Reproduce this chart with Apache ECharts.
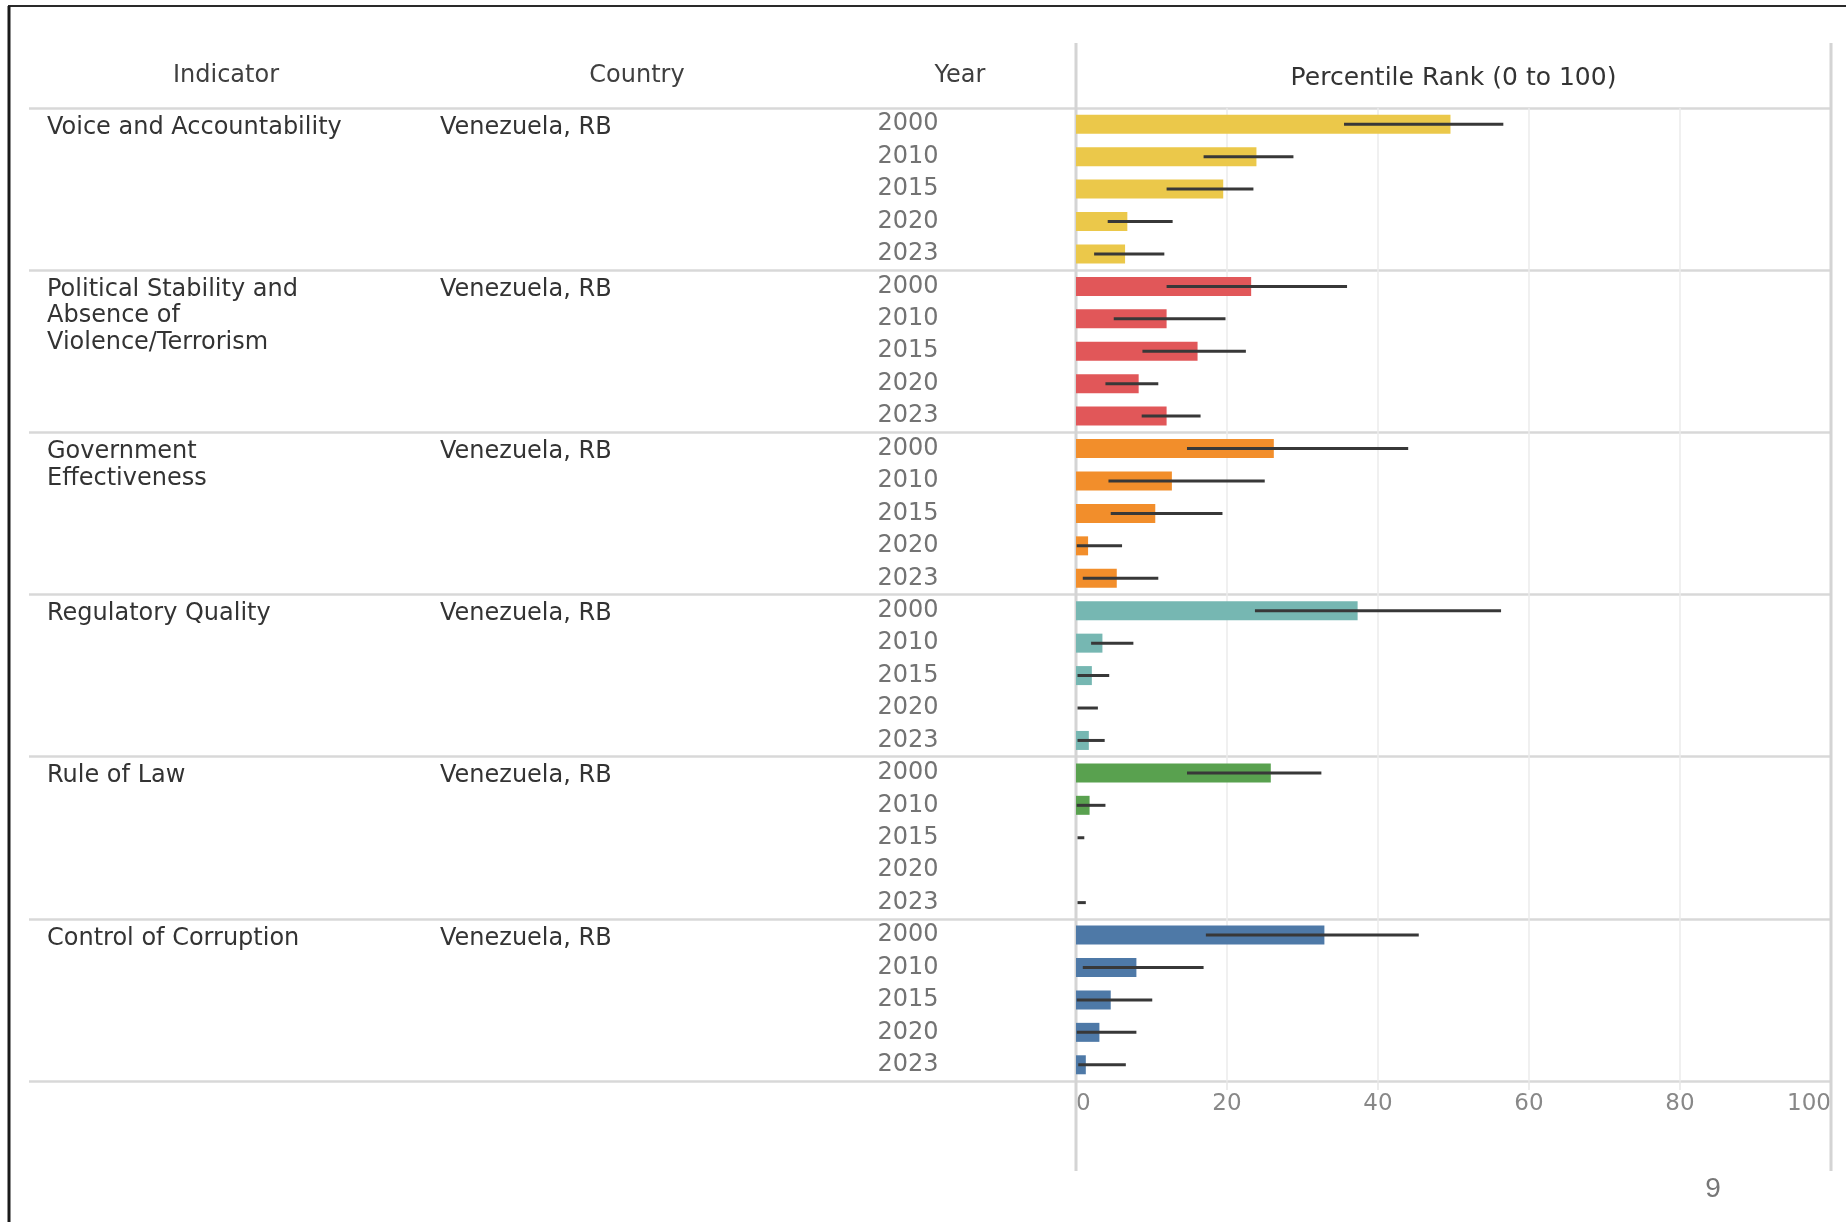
<!DOCTYPE html>
<html><head><meta charset="utf-8">
<script src="https://cdn.jsdelivr.net/npm/echarts@6/dist/echarts.min.js"></script>
<style>html,body{margin:0;padding:0;background:#fff}#chart{width:1846px;height:1222px}</style>
</head><body><div id="chart"></div>
<script>
// ---- data ----
const indicators = ['Voice and Accountability', 'Political Stability and Absence of Violence/Terrorism', 'Government Effectiveness', 'Regulatory Quality', 'Rule of Law', 'Control of Corruption'];
const indicatorLabels = ['Voice and Accountability', 'Political Stability and\nAbsence of\nViolence/Terrorism', 'Government\nEffectiveness', 'Regulatory Quality', 'Rule of Law', 'Control of Corruption'];
const country = 'Venezuela, RB';
const years = ['2000', '2010', '2015', '2020', '2023'];
const xTicks = [0, 20, 40, 60, 80, 100];

const voiceRank = [49.6, 23.9, 19.5, 6.8, 6.5];
const voiceLow = [35.5, 16.9, 12.0, 4.2, 2.4];
const voiceHigh = [56.6, 28.8, 23.5, 12.8, 11.7];

const politicalRank = [23.2, 12.0, 16.1, 8.3, 12.0];
const politicalLow = [12.0, 5.0, 8.8, 3.9, 8.7];
const politicalHigh = [35.9, 19.8, 22.5, 10.9, 16.5];

const governmentRank = [26.2, 12.7, 10.5, 1.6, 5.4];
const governmentLow = [14.7, 4.3, 4.6, 0.1, 0.9];
const governmentHigh = [44.0, 25.0, 19.4, 6.1, 10.9];

const regulatoryRank = [37.3, 3.5, 2.1, 0, 1.7];
const regulatoryLow = [23.7, 2.0, 0.2, 0.2, 0.2];
const regulatoryHigh = [56.3, 7.6, 4.4, 2.9, 3.8];

const ruleRank = [25.8, 1.8, 0, null, 0];
const ruleLow = [14.7, 0.1, 0.2, null, 0.2];
const ruleHigh = [32.5, 3.9, 1.1, null, 1.3];

const corruptionRank = [32.9, 8.0, 4.6, 3.1, 1.3];
const corruptionLow = [17.2, 0.9, 0.1, 0.1, 0.3];
const corruptionHigh = [45.4, 16.9, 10.1, 8.0, 6.6];

const colors = ['#EBC84A', '#E15759', '#F28E2B', '#76B7B2', '#59A14F', '#4E79A7'];

// ---- build ----
const ranks = [voiceRank, politicalRank, governmentRank, regulatoryRank, ruleRank, corruptionRank];
const lows = [voiceLow, politicalLow, governmentLow, regulatoryLow, ruleLow, corruptionLow];
const highs = [voiceHigh, politicalHigh, governmentHigh, regulatoryHigh, ruleHigh, corruptionHigh];

const rowKeys = [];
indicators.forEach((ind, g) => years.forEach(y => rowKeys.push(g + '|' + y)));
const barData = [];
const errData = [];
ranks.forEach((arr, g) => arr.forEach((v, k) => {
  const row = g * years.length + k;
  barData.push({ value: v, itemStyle: { color: colors[g] } });
  if (lows[g][k] != null) errData.push([lows[g][k], highs[g][k], row]);
}));
const textData = indicators.map((_, g) => [0, g * years.length, g]);

const FONT = '"DejaVu Sans", "Noto Sans", sans-serif';
const G0L = 29, G1L = 1076, G1R = 1831, GT = 108, GB = 1081;
const sepLine = { show: true, interval: (i) => i % years.length === 0, lineStyle: { color: '#d8d8d8', width: 2.5 } };

const chart = echarts.init(document.getElementById('chart'), null, { renderer: 'canvas' });
chart.setOption({
  backgroundColor: '#ffffff',
  animation: false,
  grid: [
    { left: G0L, top: GT, width: G1L - G0L, height: GB - GT, outerBoundsMode: 'none', containLabel: false },
    { left: G1L, top: GT, width: G1R - G1L, height: GB - GT, outerBoundsMode: 'none', containLabel: false }
  ],
  xAxis: [
    { gridIndex: 0, type: 'value', min: 0, max: 1, show: false },
    {
      gridIndex: 1, type: 'value', min: xTicks[0], max: xTicks[xTicks.length - 1], interval: xTicks[1] - xTicks[0],
      axisLine: { show: false },
      axisTick: { show: true, length: 9, lineStyle: { color: '#e6e6e6', width: 1.5 } },
      splitLine: { show: true, lineStyle: { color: '#ebebeb', width: 1.5 } },
      axisLabel: { color: '#888', fontFamily: FONT, fontSize: 23, margin: 12, alignMinLabel: 'left', alignMaxLabel: 'right' }
    }
  ],
  yAxis: [
    {
      gridIndex: 0, type: 'category', inverse: true, data: rowKeys,
      axisLine: { show: false }, axisTick: { show: false }, axisLabel: { show: false },
      splitLine: sepLine
    },
    {
      gridIndex: 1, type: 'category', inverse: true, data: rowKeys,
      axisLine: { show: false }, axisTick: { show: false },
      axisLabel: {
        interval: 0, margin: G1L - 908, align: 'center', color: '#737373',
        fontFamily: FONT, fontSize: 24, formatter: (v) => v.split('|')[1]
      },
      splitLine: sepLine
    }
  ],
  series: [
    {
      type: 'bar', xAxisIndex: 1, yAxisIndex: 1, data: barData, barWidth: 19, z: 2
    },
    {
      type: 'custom', xAxisIndex: 1, yAxisIndex: 1, data: errData, z: 3,
      encode: { x: [0, 1], y: 2 },
      renderItem: function (params, api) {
        const a = api.coord([api.value(0), api.value(2)]);
        const b = api.coord([api.value(1), api.value(2)]);
        return { type: 'line', shape: { x1: a[0], y1: a[1], x2: b[0], y2: b[1] },
          style: { stroke: '#383838', lineWidth: 3 } };
      }
    },
    {
      type: 'custom', xAxisIndex: 0, yAxisIndex: 0, data: textData, z: 3, clip: false,
      encode: { x: 0, y: 1 },
      renderItem: function (params, api) {
        const c = api.coord([0, api.value(1)]);
        const gx = params.coordSys.x;
        const g = api.value(2);
        const base = { fill: '#333', font: '24px ' + FONT, lineHeight: 26.5, verticalAlign: 'top', textVerticalAlign: 'top', align: 'left', textAlign: 'left' };
        return { type: 'group', children: [
          { type: 'text', style: Object.assign({ text: indicatorLabels[g], x: gx + 18, y: c[1] - 10 }, base) },
          { type: 'text', style: Object.assign({ text: country, x: gx + 411, y: c[1] - 10 }, base) }
        ] };
      }
    }
  ],
  graphic: [
    { type: 'line', shape: { x1: 8, y1: 6, x2: 1846, y2: 6 }, style: { stroke: '#2a2a2a', lineWidth: 2 }, silent: true },
    { type: 'line', shape: { x1: 9, y1: 6, x2: 9, y2: 1222 }, style: { stroke: '#1a1a1a', lineWidth: 3 }, silent: true },
    { type: 'line', shape: { x1: G1L, y1: 43, x2: G1L, y2: 1171 }, style: { stroke: '#d4d4d4', lineWidth: 3 }, silent: true, z: 1 },
    { type: 'line', shape: { x1: G1R, y1: 43, x2: G1R, y2: 1171 }, style: { stroke: '#d4d4d4', lineWidth: 3 }, silent: true, z: 1 },
    { type: 'text', style: { text: 'Indicator', x: 226, y: 76, textAlign: 'center', textVerticalAlign: 'middle', align: 'center', verticalAlign: 'middle', fill: '#3f3f3f', font: '24px ' + FONT } },
    { type: 'text', style: { text: 'Country', x: 637, y: 76, textAlign: 'center', textVerticalAlign: 'middle', align: 'center', verticalAlign: 'middle', fill: '#3f3f3f', font: '24px ' + FONT } },
    { type: 'text', style: { text: 'Year', x: 960, y: 76, textAlign: 'center', textVerticalAlign: 'middle', align: 'center', verticalAlign: 'middle', fill: '#3f3f3f', font: '24px ' + FONT } },
    { type: 'text', style: { text: 'Percentile Rank (0 to 100)', x: (G1L + G1R) / 2, y: 78, textAlign: 'center', textVerticalAlign: 'middle', align: 'center', verticalAlign: 'middle', fill: '#333', font: '25px ' + FONT } },
    { type: 'text', style: { text: '9', x: 1713, y: 1189, textAlign: 'center', textVerticalAlign: 'middle', align: 'center', verticalAlign: 'middle', fill: '#777', font: '28px "Liberation Sans", sans-serif' } }
  ]
});
</script>
</body></html>
